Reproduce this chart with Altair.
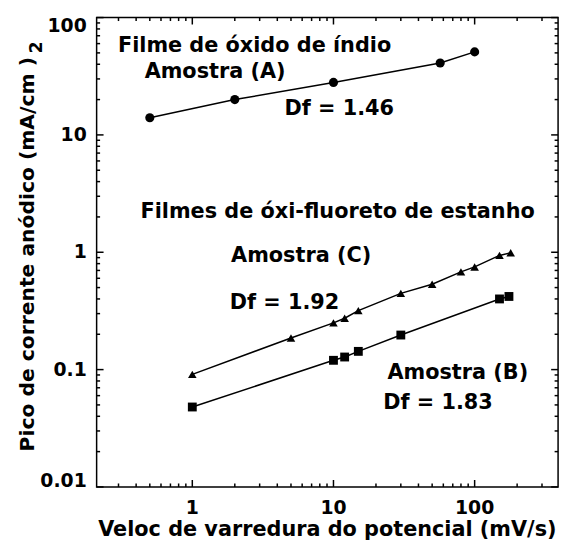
import altair as alt
import pandas as pd

# ---- data ----
x_a = [0.5, 2, 10, 57, 100]
y_a = [14, 20, 28, 41, 51]
x_b = [1, 10, 12, 15, 30, 150, 175]
y_b = [0.048, 0.12, 0.128, 0.143, 0.197, 0.40, 0.42]
x_c = [1, 5, 10, 12, 15, 30, 50, 80, 100, 150, 180]
y_c = [0.091, 0.186, 0.25, 0.274, 0.318, 0.446, 0.534, 0.68, 0.75, 0.94, 0.99]

ann_text = ["Filme de óxido de índio", "Amostra (A)", "Df = 1.46",
            "Filmes de óxi-fluoreto de estanho", "Amostra (C)", "Df = 1.92",
            "Amostra (B)", "Df = 1.83"]
ann_x = [2.76, 1.45, 11.0, 10.7, 5.9, 4.5, 76, 55]
ann_y = [57, 34, 16.7, 2.2, 0.93, 0.367, 0.094, 0.052]

x_title = "Veloc de varredura do potencial (mV/s)"
y_title = "Pico de corrente anódico (mA/cm )"
y_title_sup = "2"

x_labels = [1, 10, 100]
y_labels = [0.01, 0.1, 1, 10, 100]
x_minor = [0.3, 0.4, 0.5, 0.6, 0.7, 0.8, 0.9,
           2, 3, 4, 5, 6, 7, 8, 9,
           20, 30, 40, 50, 60, 70, 80, 90,
           200, 300]
y_minor = [0.02, 0.03, 0.04, 0.05, 0.06, 0.07, 0.08, 0.09,
           0.2, 0.3, 0.4, 0.5, 0.6, 0.7, 0.8, 0.9,
           2, 3, 4, 5, 6, 7, 8, 9,
           20, 30, 40, 50, 60, 70, 80, 90]

W, H = 466, 474
MAJOR, MINOR = 7, 3.5
FONT = "DejaVu Sans"

series = (["A"] * len(x_a)) + (["B"] * len(x_b)) + (["C"] * len(x_c))
df = pd.DataFrame({"x": x_a + x_b + x_c, "y": y_a + y_b + y_c, "series": series})
ann = pd.DataFrame({"label": ann_text, "x": ann_x, "y": ann_y})

xs = alt.Scale(type="log", domain=[0.21, 390], nice=False)
ys = alt.Scale(type="log", domain=[0.01, 100], nice=False)
XN = alt.X("x:Q", scale=xs, axis=None)
YN = alt.Y("y:Q", scale=ys, axis=None)

lines = alt.Chart(df).mark_line(color="black", strokeWidth=1.5).encode(
    x=XN, y=YN, detail="series:N",
)

points = alt.Chart(df).mark_point(filled=True, color="black", opacity=1).encode(
    x=XN, y=YN,
    shape=alt.Shape("series:N", scale=alt.Scale(domain=["A", "B", "C"],
                    range=["circle", "square", "triangle-up"]), legend=None),
    size=alt.Size("series:N", scale=alt.Scale(domain=["A", "B", "C"],
                  range=[85, 75, 55]), legend=None),
)

texts = alt.Chart(ann).mark_text(font=FONT, fontWeight="bold", fontSize=21,
                                 color="black").encode(
    x=XN, y=YN, text="label:N",
)


# inward tick marks on all four sides (short vertical / horizontal strokes)
def x_ticks(values, ypos, length):
    d = pd.DataFrame({"v": values})
    return alt.Chart(d).mark_point(shape="M0,-1L0,1", filled=False, color="black",
                                   strokeWidth=1.5, opacity=1,
                                   size=length * length).encode(
        x=alt.X("v:Q", scale=xs, axis=None), y=alt.value(ypos))


def y_ticks(values, xpos, length):
    d = pd.DataFrame({"v": values})
    return alt.Chart(d).mark_point(shape="M-1,0L1,0", filled=False, color="black",
                                   strokeWidth=1.5, opacity=1,
                                   size=length * length).encode(
        y=alt.Y("v:Q", scale=ys, axis=None), x=alt.value(xpos))


tick_layers = [
    x_ticks(x_labels, H - MAJOR / 2, MAJOR), x_ticks(x_minor, H - MINOR / 2, MINOR),
    x_ticks(x_labels, MAJOR / 2, MAJOR), x_ticks(x_minor, MINOR / 2, MINOR),
    y_ticks(y_labels, MAJOR / 2, MAJOR), y_ticks(y_minor, MINOR / 2, MINOR),
    y_ticks(y_labels, W - MAJOR / 2, MAJOR), y_ticks(y_minor, W - MINOR / 2, MINOR),
]

# tick labels (axis text)
x_lab = alt.Chart(pd.DataFrame({"v": x_labels})).mark_text(
    font=FONT, fontWeight="bold", fontSize=19, color="black", baseline="top"
).encode(x=alt.X("v:Q", scale=xs, axis=None), y=alt.value(H + 12),
         text=alt.Text("v:Q", format="~g"))


def y_lab(values, baseline):
    return alt.Chart(pd.DataFrame({"v": values})).mark_text(
        font=FONT, fontWeight="bold", fontSize=19, color="black",
        align="right", baseline=baseline
    ).encode(y=alt.Y("v:Q", scale=ys, axis=None), x=alt.value(-10),
             text=alt.Text("v:Q", format="~g"))


y_lab_mid = y_lab(y_labels[1:-1], "middle")
y_lab_top = y_lab(y_labels[-1:], "top")
y_lab_bot = y_lab(y_labels[:1], "alphabetic")

x_tit = alt.Chart(pd.DataFrame({"t": [x_title]})).mark_text(
    font=FONT, fontWeight="bold", fontSize=21, color="black", baseline="top"
).encode(x=alt.value(W / 2), y=alt.value(H + 33), text="t:N")

y_tit = alt.Chart(pd.DataFrame({"t": [y_title]})).mark_text(
    font=FONT, fontWeight="bold", fontSize=20.5, color="black", angle=270,
    baseline="middle"
).encode(x=alt.value(-69), y=alt.value(H / 2 + 2), text="t:N")

y_sup = alt.Chart(pd.DataFrame({"t": [y_title_sup]})).mark_text(
    font=FONT, fontWeight="bold", fontSize=17, color="black", angle=270
).encode(x=alt.value(-60), y=alt.value(30), text="t:N")

chart = alt.layer(lines, points, texts, *tick_layers, x_lab, y_lab_mid, y_lab_top,
                  y_lab_bot, x_tit, y_tit, y_sup).properties(
    width=W, height=H,
    padding={"left": 9.5, "top": 4, "right": 5, "bottom": 5},
).configure_view(stroke="black", strokeWidth=1.5)

chart.save("out.html", embed_options={"renderer": "svg", "actions": False})
